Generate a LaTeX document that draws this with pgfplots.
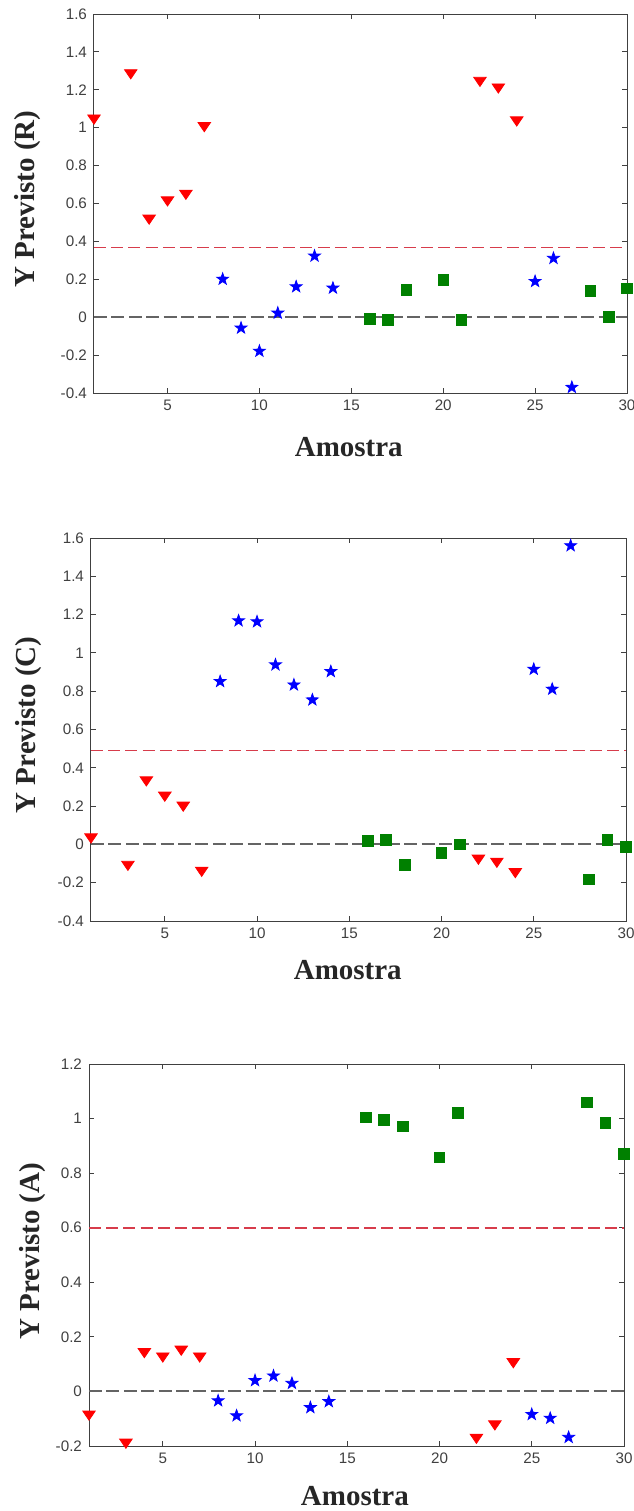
\documentclass[border=0pt]{standalone}
\usepackage{pgfplots}
\pgfplotsset{compat=1.18}
\usepackage{fontspec}
\setmainfont{Liberation Serif}
\newfontfamily\ticksf{Liberation Sans}

\definecolor{axgray}{RGB}{64,64,64}
\definecolor{mred}{RGB}{255,0,0}
\definecolor{mblue}{RGB}{0,0,255}
\definecolor{mgreen}{RGB}{0,128,0}
\definecolor{thrline}{RGB}{215,60,75}
\definecolor{zeroline}{RGB}{100,100,100}

\pgfdeclareplotmark{pentastar}{%
  \pgfpathmoveto{\pgfpointpolar{90}{\pgfplotmarksize}}%
  \pgfpathlineto{\pgfpointpolar{126}{0.4\pgfplotmarksize}}%
  \pgfpathlineto{\pgfpointpolar{162}{\pgfplotmarksize}}%
  \pgfpathlineto{\pgfpointpolar{198}{0.4\pgfplotmarksize}}%
  \pgfpathlineto{\pgfpointpolar{234}{\pgfplotmarksize}}%
  \pgfpathlineto{\pgfpointpolar{270}{0.4\pgfplotmarksize}}%
  \pgfpathlineto{\pgfpointpolar{306}{\pgfplotmarksize}}%
  \pgfpathlineto{\pgfpointpolar{342}{0.4\pgfplotmarksize}}%
  \pgfpathlineto{\pgfpointpolar{18}{\pgfplotmarksize}}%
  \pgfpathlineto{\pgfpointpolar{54}{0.4\pgfplotmarksize}}%
  \pgfpathclose
  \pgfusepathqfillstroke
}

\pgfplotsset{
  panel/.style={
    scale only axis, width=267pt, height=190pt,
    xmin=1, xmax=30, xtick={5,10,15,20,25,30},
    axis line style={axgray, line width=0.5pt},
    every tick/.style={axgray, line width=0.5pt},
    major tick length=2.5pt, tick align=inside,
    xtick pos=both, ytick pos=both,
    tick label style={font=\ticksf\fontsize{7.6}{9}\selectfont, text=axgray},
    /pgf/number format/assume math mode=true,
    label style={font=\bfseries\fontsize{14.5}{17}\selectfont, text=black!85},
    xlabel={Amostra},
    clip=false,
  },
  redm/.style={only marks, mark=triangle*, mark size=3.6pt, color=mred, mark options={yscale=-0.85, fill=mred}},
  bluem/.style={only marks, mark=pentastar, mark size=3.1pt, color=mblue, mark options={fill=mblue}},
  greenm/.style={only marks, mark=square*, mark size=2.65pt, color=mgreen, mark options={fill=mgreen}},
  zerol/.style={no marks, zeroline, line width=1pt, dash pattern=on 6.5pt off 2.2pt},
  thrl/.style={no marks, thrline, line width=0.8pt, dash pattern=on 6pt off 2.6pt},
}

\begin{document}
\begin{tikzpicture}
\useasboundingbox (0,0) rectangle (316.5pt,-755.5pt);

% ---------- Panel 1 (R) ----------
\begin{axis}[panel, at={(47pt,-7pt)}, anchor=north west, width=266.5pt, height=189.5pt,
  ymin=-0.4, ymax=1.6, ytick={-0.4,-0.2,0,0.2,0.4,0.6,0.8,1,1.2,1.4,1.6},
  ylabel={Y Previsto (R)},
  ylabel style={at={(axis description cs:-0.124,0.512)}, anchor=center},
  xlabel style={at={(axis description cs:0.478,-0.1425)}, anchor=center}]
\addplot[zerol] coordinates {(1,0) (30,0)};
\addplot[thrl] coordinates {(1,0.367) (30,0.367)};
\addplot[redm] coordinates {(1,1.051) (3,1.29) (4,0.523) (5,0.619) (6,0.654) (7,1.011) (22,1.25) (23,1.215) (24,1.041)};
\addplot[bluem] coordinates {(8,0.201) (9,-0.057) (10,-0.179) (11,0.022) (12,0.161) (13,0.323) (14,0.154) (25,0.189) (26,0.311) (27,-0.370)};
\addplot[greenm] coordinates {(16,-0.008) (17,-0.013) (18,0.145) (20,0.198) (21,-0.013) (28,0.140) (29,0.003) (30,0.152)};
\end{axis}

% ---------- Panel 2 (C) ----------
\begin{axis}[panel, at={(45.5pt,-269pt)}, anchor=north west, width=267.5pt, height=191.5pt,
  ymin=-0.4, ymax=1.6, ytick={-0.4,-0.2,0,0.2,0.4,0.6,0.8,1,1.2,1.4,1.6},
  ylabel={Y Previsto (C)},
  ylabel style={at={(axis description cs:-0.116,0.512)}, anchor=center},
  xlabel style={at={(axis description cs:0.48,-0.128)}, anchor=center}]
\addplot[zerol] coordinates {(1,0) (30,0)};
\addplot[thrl] coordinates {(1,0.49) (30,0.49)};
\addplot[redm] coordinates {(1,0.039) (3,-0.104) (4,0.337) (5,0.257) (6,0.205) (7,-0.135) (22,-0.072) (23,-0.088) (24,-0.142)};
\addplot[bluem] coordinates {(8,0.851) (9,1.168) (10,1.163) (11,0.938) (12,0.833) (13,0.755) (14,0.903) (25,0.915) (26,0.811) (27,1.56)};
\addplot[greenm] coordinates {(16,0.018) (17,0.023) (18,-0.107) (20,-0.043) (21,0.001) (28,-0.182) (29,0.023) (30,-0.013)};
\end{axis}

% ---------- Panel 3 (A) ----------
\begin{axis}[panel, at={(44.5pt,-532pt)}, anchor=north west, width=267.5pt, height=191pt,
  ymin=-0.2, ymax=1.2, ytick={-0.2,0,0.2,0.4,0.6,0.8,1,1.2},
  ylabel={Y Previsto (A)},
  ylabel style={at={(axis description cs:-0.105,0.51)}, anchor=center},
  xlabel style={at={(axis description cs:0.497,-0.131)}, anchor=center}]
\addplot[zerol] coordinates {(1,0) (30,0)};
\addplot[thrl] coordinates {(1,0.6) (30,0.6)};
\addplot[redm] coordinates {(1,-0.083) (3,-0.186) (4,0.146) (5,0.130) (6,0.155) (7,0.130) (22,-0.168) (23,-0.119) (24,0.109)};
\addplot[bluem] coordinates {(8,-0.034) (9,-0.089) (10,0.040) (11,0.057) (12,0.030) (13,-0.059) (14,-0.037) (25,-0.084) (26,-0.098) (27,-0.168)};
\addplot[greenm] coordinates {(16,1.004) (17,0.996) (18,0.971) (20,0.858) (21,1.020) (28,1.059) (29,0.984) (30,0.870)};
\end{axis}
\end{tikzpicture}
\end{document}
